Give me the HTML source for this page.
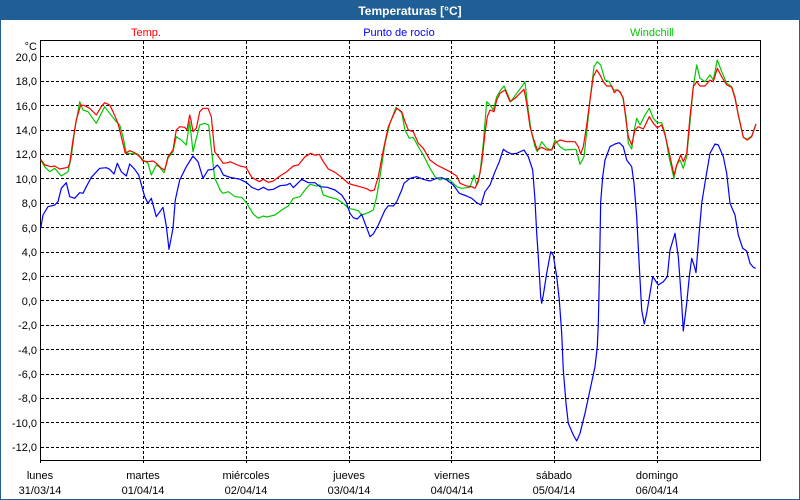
<!DOCTYPE html>
<html><head><meta charset="utf-8"><style>
html,body{margin:0;padding:0;background:#fff;}
svg{display:block;}
text{font-family:"Liberation Sans",Arial,sans-serif;}
</style></head><body>
<svg width="800" height="500" viewBox="0 0 800 500" xmlns="http://www.w3.org/2000/svg">
<rect x="0" y="0" width="800" height="500" fill="#ffffff"/>
<rect x="0" y="0" width="800" height="20" fill="#1f5f96"/>
<rect x="0" y="0" width="1" height="500" fill="#1f5f96"/>
<rect x="799" y="0" width="1" height="500" fill="#1f5f96"/>
<rect x="0" y="499" width="800" height="1" fill="#1f5f96"/>
<text x="410" y="15" fill="#ffffff" font-size="12" font-weight="bold" text-anchor="middle">Temperaturas [°C]</text>

<text x="146" y="36" fill="#ff0000" font-size="11" text-anchor="middle">Temp.</text>
<text x="399" y="36" fill="#0000ff" font-size="11" text-anchor="middle">Punto de rocío</text>
<text x="652" y="36" fill="#00c800" font-size="11" text-anchor="middle">Windchill</text>

<g stroke="#000" stroke-width="1" stroke-dasharray="3,2" fill="none">
<line x1="41" y1="56.5" x2="760" y2="56.5"/>
<line x1="41" y1="81.5" x2="760" y2="81.5"/>
<line x1="41" y1="105.5" x2="760" y2="105.5"/>
<line x1="41" y1="130.5" x2="760" y2="130.5"/>
<line x1="41" y1="154.5" x2="760" y2="154.5"/>
<line x1="41" y1="178.5" x2="760" y2="178.5"/>
<line x1="41" y1="203.5" x2="760" y2="203.5"/>
<line x1="41" y1="227.5" x2="760" y2="227.5"/>
<line x1="41" y1="252.5" x2="760" y2="252.5"/>
<line x1="41" y1="276.5" x2="760" y2="276.5"/>
<line x1="41" y1="300.5" x2="760" y2="300.5"/>
<line x1="41" y1="325.5" x2="760" y2="325.5"/>
<line x1="41" y1="349.5" x2="760" y2="349.5"/>
<line x1="41" y1="374.5" x2="760" y2="374.5"/>
<line x1="41" y1="398.5" x2="760" y2="398.5"/>
<line x1="41" y1="422.5" x2="760" y2="422.5"/>
<line x1="41" y1="447.5" x2="760" y2="447.5"/>
<line x1="143.5" y1="41" x2="143.5" y2="463"/>
<line x1="246.5" y1="41" x2="246.5" y2="463"/>
<line x1="349.5" y1="41" x2="349.5" y2="463"/>
<line x1="451.5" y1="41" x2="451.5" y2="463"/>
<line x1="554.5" y1="41" x2="554.5" y2="463"/>
<line x1="657.5" y1="41" x2="657.5" y2="463"/>
</g>
<g stroke="#000" stroke-width="1" fill="none">
<rect x="40.5" y="40.5" width="720" height="420"/>
<line x1="40.5" y1="460" x2="40.5" y2="463"/>
</g>

<g font-size="11" fill="#000" text-anchor="end">
<text x="37" y="50">°C</text>
<text x="37" y="61">20,0</text>
<text x="37" y="85">18,0</text>
<text x="37" y="110">16,0</text>
<text x="37" y="134">14,0</text>
<text x="37" y="158">12,0</text>
<text x="37" y="183">10,0</text>
<text x="37" y="207">8,0</text>
<text x="37" y="232">6,0</text>
<text x="37" y="256">4,0</text>
<text x="37" y="280">2,0</text>
<text x="37" y="305">0,0</text>
<text x="37" y="329">-2,0</text>
<text x="37" y="354">-4,0</text>
<text x="37" y="378">-6,0</text>
<text x="37" y="402">-8,0</text>
<text x="37" y="427">-10,0</text>
<text x="37" y="451">-12,0</text>
</g>
<g font-size="11" fill="#000" text-anchor="middle">
<text x="40" y="479">lunes</text><text x="40" y="494">31/03/14</text>
<text x="143" y="479">martes</text><text x="143" y="494">01/04/14</text>
<text x="246" y="479">miércoles</text><text x="246" y="494">02/04/14</text>
<text x="349" y="479">jueves</text><text x="349" y="494">03/04/14</text>
<text x="452" y="479">viernes</text><text x="452" y="494">04/04/14</text>
<text x="554" y="479">sábado</text><text x="554" y="494">05/04/14</text>
<text x="657" y="479">domingo</text><text x="657" y="494">06/04/14</text>
</g>

<g fill="none" stroke-width="1.2" stroke-linejoin="round">
<polyline stroke="#00c800" points="40.7,160 44.7,166.7 49.7,171.7 54.7,168.3 61.3,176 68,171.7 71.3,156.7 74.7,130 79.7,101.7 83,110 88,111.7 96.3,123.3 104.7,106.7 109.7,113.3 116.3,121.7 119.7,125 123,136.7 126.3,153.3 138,154 143,160 148,163.3 151.3,175 156.3,165 159.7,167.3 164,172.7 168,158.3 173,151.7 176.3,136.7 181.3,140 186.3,145 189.7,121.7 193,151.7 196.3,138.3 199.7,125 204.7,123.3 208.7,125 211.3,148.3 214.7,178.3 218,185 220,190 223,193.3 228.3,191.7 235,196.7 241.7,197.3 246.7,203.3 253.3,214 258.3,218.3 263.3,216 266.7,217 275,215 281.7,210 288.3,206 293.3,198.3 300,196.7 305,190 310,184.3 316.7,186 320,185 323.3,195 330,197.3 336.7,199 343.3,203.3 348.3,208.3 353.3,209.3 358.3,210.7 361.7,215 368.3,212.7 373.3,210 376.7,196.7 380,176.7 385,143.3 390,123.3 396,107.3 401.7,112.7 405,130 409.3,138.3 413.3,137.3 418.3,146.7 423.3,155 430,168.3 435,176.7 440,180 443.3,178.3 450,180 456.7,186.7 461.7,188.3 470,187.3 474,175 476.7,185 480,173.3 483.3,143.3 486.7,101.7 490,105 493.3,110 496.7,96.7 500.7,90 504,86 507.3,93.3 510.7,101.7 516.7,93.3 521.7,86.7 525,81.7 527.3,103.3 531,130 535,146.7 537.3,151.7 541.7,141.7 546.7,148.3 551.7,150 555,140 560,146.7 565,150 576,149.3 580,164.3 584,156.7 587.3,126.7 590,100 594,66.7 597.3,61.7 600.7,65 605,80 609.3,81.7 613.3,90 618.3,90 622.7,96.7 626,116.7 628.3,143.3 631.7,149 634,131.7 636.7,118.3 640,125 645,115 649.3,108.3 653.3,118.3 657.3,122.7 661.7,122.7 665,133.3 669.3,158.3 674,178.3 676.7,165 680,160 683.3,168.3 686.7,156.7 690.7,115 693.3,86.7 696.7,65 700,78.3 705,81.7 710,75 713.3,80 717.3,60 721.7,71.7 726.7,83.3 731.7,86.7 735,96.7 738.3,115 743.3,137.3 747.3,139.3 751.7,136 756,124"/>
<polyline stroke="#ff0000" points="40.7,159.3 44.7,165 51.3,166.7 54.7,166 59.7,169 68,167.3 69.7,163.3 73,140 76.3,120 80.7,105 84.7,105.7 89.7,108.3 96.3,115 101.3,106.7 104.7,102.7 109.7,105 113,111.7 118,123.3 121.3,136.7 125.3,153.3 129.7,150.7 134.7,152.7 139.7,156.7 143,161 148,161.7 153,161 156.3,163.3 161.3,168.3 164.7,170 168,156.7 173,150 176.3,130 179.7,126.7 184.7,127.3 187,130 189.7,115 191.3,121.7 193,131.7 196.3,128.3 199.7,111.7 203,108.3 208,108.3 211.3,116.7 214.7,151.7 219.7,158.3 223,163.3 228,162.7 230,161.7 240,166 246,167.3 251.7,177.3 259.3,181.7 263.3,179.3 268.3,182.3 273.3,181 280,176 286.7,171.7 293.3,166 298.3,165 305,156.7 310.7,153.3 315,155.3 319.3,154.3 323.3,161.7 328.3,169 335,172.3 341.7,177.3 348.3,183.3 353.3,185 360,186.7 366.7,188.7 370.7,191 374.3,190 378.3,176.7 383.3,150 388.3,126.7 392.7,116.7 396.7,108.3 401.7,111.7 405,121.7 408.3,130 413.3,131.7 418.3,143.3 423.3,148.3 430,160 436.7,165 443.3,168.3 450,171.7 456.7,176 460,183.3 466.7,186 471.7,186.7 475,188.3 478.3,181.7 481.7,163.3 485,133.3 487.3,116.7 490,110 494,111.7 496.7,100 500,93.3 505,90 510,101.7 515,98.3 520,93.3 524,89.3 526.7,103.3 530,126.7 533.3,138.3 537.3,150 541.7,147.3 546.7,150 551.7,150 555,143.3 560,140 566.7,141.7 575,141.7 578.3,146.7 580.7,154 583.3,146.7 586.7,125 590,100 593.3,76.7 596.7,70 600,75 603.3,81.7 606.7,86 611.7,86 614.3,92.7 616.7,90 620,91.7 623.3,98.3 626,120 628.3,136.7 631.7,145 635,130 638.3,126.7 643.3,129 649.3,116.7 653.3,123.3 657.3,127.7 661.7,125 665,135 669.3,153.3 674,175 676.7,165 680.7,155 683.3,161.7 686.7,153.3 690,116.7 693.3,86.7 696.7,81.7 700,86 705,86 710,80 713.3,81.7 717.3,68.3 721.7,76.7 726.7,85 731.7,87.3 735,98.3 738.3,115 743.3,137.3 747.3,140 751.7,136.7 756,124"/>
<polyline stroke="#0000ff" points="40.7,228.3 43,215 48,206.7 54.7,205 58,201.7 61.3,188.3 66.3,182.7 69.7,196.7 74.7,198.3 79.7,192.7 83,193.3 86.3,186.7 91.3,177.3 99.7,168.3 106.3,167.7 109.7,169.3 114,174 117.3,163.3 121.3,171.7 126.3,176 129.7,164 134.7,169.3 138.7,175 144.7,196.7 148,203.3 151.3,198.3 156.3,216.7 163,207.3 166.3,226 169,249.3 173,228.3 175.3,200 179.7,180 186.3,166.7 193,156 198,161.7 203,178.3 208,170 213,169.3 217.3,165 220,168.3 223.3,175 230,177.3 240,179.3 246.7,182.7 251.7,187.3 258.3,190 263.3,187.3 268.3,190 273.3,189.3 280,185.7 286.7,185 290,183.3 293.3,187.7 301.7,179.3 308.3,182.7 315,182.7 320,186.7 327.3,187.3 335,190 341.7,195 346,201.7 350,213.3 353.3,217.7 357.3,219 361.7,214.3 365,223.3 370,236.7 373.3,234 378.3,225 385,210 388.3,205.7 393.3,206 396.7,201.7 401.7,190 404,183.3 410,178.3 416.7,176.7 423.3,179.3 430,181 436.7,178.3 441.7,177.7 446.7,180 453.3,185 459.3,193.3 466.7,196 471.7,198.3 476.7,202.7 481,205 485,191.7 490,185 495,171.7 499.3,161.7 503.3,149.3 506.7,151.7 511.7,154 516.7,153.3 524,150 528.3,156.7 532.7,170 535,200 536.7,233.3 538.3,256.7 540.7,296.7 541.7,303.3 543.3,295 546.7,273.3 550.7,251.7 553.3,255 556.7,276.7 559.3,300 561.7,333.3 563.3,370 566,403.3 568.3,423.3 573.3,435 576.7,441 580,433.3 585,413.3 590,390 595,366.7 597.3,346.7 598.3,323.3 599.3,280 600.7,201.7 602.7,176.7 605,160 610,146.7 615,144 619.3,142.7 623.3,146.7 626.7,160 631.7,166.7 634,183.3 636.7,216.7 639.3,266.7 641.7,310 644.3,324 646.7,313.3 650,293.3 652.7,276.7 655,280 658.3,285 663.3,281.7 667.3,276.7 670,250 675,233.3 678.3,256.7 681.7,303.3 683.3,331 686.7,303.3 689.3,276.7 691.7,258.3 694,265 696,272.7 698.3,243.3 701.7,203.3 706,176.7 710,153.3 715,144 718.3,145 723.3,156.7 726.7,173.3 730,203.3 735,215 738.3,235 742.7,248.3 746.7,251 750,263.3 753.3,267.3 755.7,268.3"/>
</g>
</svg>
</body></html>
